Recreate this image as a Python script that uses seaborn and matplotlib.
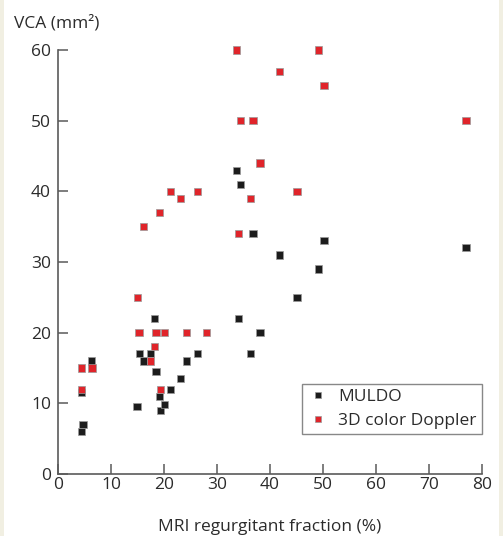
import numpy as np
import pandas as pd
import matplotlib
matplotlib.use("Agg")
import matplotlib.pyplot as plt
from matplotlib.patches import Rectangle
import seaborn as sns

# MRI regurgitant fraction (%) and vena contracta area (mm^2)
muldo_rf = [4.5, 4.7, 4.4, 6.3, 14.9, 15.4, 16.2, 18.2, 17.5, 18.5, 19.1, 19.3, 20.1, 21.3,
            23.1, 24.3, 26.3, 34.1, 38.1, 36.3, 45.1, 33.7, 34.4, 36.8, 50.2, 41.8, 49.2, 77.0]
muldo_vca = [6.0, 7.0, 11.5, 16.0, 9.5, 17.0, 16.0, 22.0, 17.0, 14.5, 11.0, 9.0, 9.8, 12.0,
             13.5, 16.0, 17.0, 22.0, 20.0, 17.0, 25.0, 43.0, 41.0, 34.0, 33.0, 31.0, 29.0, 32.0]

doppler_rf = [4.5, 6.4, 4.4, 15.0, 15.3, 18.5, 20.1, 18.2, 17.5, 19.3, 24.3, 28.0, 33.7, 49.2,
              41.8, 50.2, 34.4, 36.8, 77.0, 38.1, 36.3, 45.1, 21.3, 23.1, 26.3, 19.1, 16.1, 34.1]
doppler_vca = [15.0, 15.0, 12.0, 25.0, 20.0, 20.0, 20.0, 18.0, 16.0, 12.0, 20.0, 20.0, 60.0, 60.0,
               57.0, 55.0, 50.0, 50.0, 50.0, 44.0, 39.0, 40.0, 40.0, 39.0, 40.0, 37.0, 35.0, 34.0]

series_names = ["MULDO", "3D color Doppler"]
x_ticks = [0, 10, 20, 30, 40, 50, 60, 70, 80]
y_ticks = [0, 10, 20, 30, 40, 50, 60]

df = pd.DataFrame({
    "rf": muldo_rf + doppler_rf,
    "vca": muldo_vca + doppler_vca,
    "method": [series_names[0]] * len(muldo_rf) + [series_names[1]] * len(doppler_rf),
})

sns.set_style("ticks")
plt.rcParams["font.family"] = ["Open Sans", "DejaVu Sans"]

text_col = "#2b2b2b"
axis_col = "#5a5a5a"

fig = plt.figure(figsize=(5.03, 5.36), dpi=100)
fig.patch.set_facecolor("white")
# thin cream strips at the page edges
fig.patches.append(Rectangle((0, 0), 4 / 503, 1, transform=fig.transFigure,
                             facecolor="#f1efe2", edgecolor="none", zorder=0))
fig.patches.append(Rectangle((1 - 4 / 503, 0), 4 / 503, 1, transform=fig.transFigure,
                             facecolor="#f1efe2", edgecolor="none", zorder=0))

ax = fig.add_axes([58 / 503, 62 / 536, 424 / 503, 424 / 536])

sns.scatterplot(
    data=df, x="rf", y="vca", hue="method", hue_order=series_names,
    palette={"MULDO": "#1c1c1c", "3D color Doppler": "#e0242a"},
    marker="s", s=27, edgecolor="#9a9a9a", linewidth=0.5, ax=ax, legend=False,
    zorder=3, clip_on=False,
)

ax.set_xlim(0, 80)
ax.set_ylim(0, 60)
ax.set_xticks(x_ticks)
ax.set_yticks(y_ticks)
ax.set_xticklabels([str(v) for v in x_ticks])
ax.set_yticklabels([str(v) for v in y_ticks])

for side in ["top", "right"]:
    ax.spines[side].set_visible(False)
for side in ["left", "bottom"]:
    ax.spines[side].set_color(axis_col)
    ax.spines[side].set_linewidth(1.2)

ax.tick_params(axis="both", direction="in", length=7, width=1.1, color=axis_col,
               labelsize=12.5, labelcolor=text_col)
ax.tick_params(axis="x", pad=2)
ax.tick_params(axis="y", pad=5)

ax.set_xlabel("MRI regurgitant fraction (%)", fontsize=12.5, color=text_col, labelpad=19)
ax.set_ylabel("")
fig.text(14 / 503, 1 - 23 / 536, "VCA (mm²)", fontsize=12.5, color=text_col,
         ha="left", va="center")

handles = [
    plt.Line2D([], [], linestyle="none", marker="s", markersize=4.5,
               markerfacecolor="#1c1c1c", markeredgecolor="#9a9a9a", markeredgewidth=0.5),
    plt.Line2D([], [], linestyle="none", marker="s", markersize=4.5,
               markerfacecolor="#e0242a", markeredgecolor="#9a9a9a", markeredgewidth=0.5),
]
leg = ax.legend(handles, series_names, loc="lower right", bbox_to_anchor=(1.0, 0.094),
                borderaxespad=0, frameon=True, fancybox=False, fontsize=12.5,
                handlelength=1.2, handletextpad=0.6, labelspacing=0.42,
                borderpad=0.3, labelcolor=text_col)
leg.get_frame().set_edgecolor("#6a6a6a")
leg.get_frame().set_linewidth(1.0)

fig.savefig("out.png", dpi=100)
